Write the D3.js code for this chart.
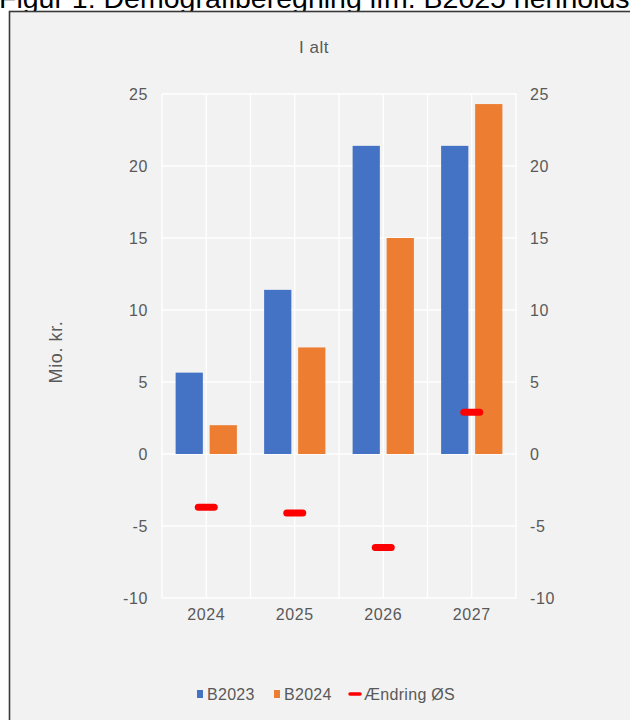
<!DOCTYPE html>
<html>
<head>
<meta charset="utf-8">
<script src="https://cdn.jsdelivr.net/npm/d3@7"></script>
<style>
  html, body { margin: 0; padding: 0; background: #fff; }
  svg { display: block; font-family: "Liberation Sans", Arial, sans-serif; }
  .tick text { fill: #595959; font-size: 16px; letter-spacing: 0.6px; }
</style>
</head>
<body>
<div id="chart"></div>
<script>
(function () {
  // data
  const years = ["2024", "2025", "2026", "2027"];
  const seriesNames = ["B2023", "B2024"];
  const b2023 = [5.65, 11.4, 21.4, 21.4];
  const b2024 = [2.0, 7.4, 15.0, 24.3];
  const aendring = [-3.7, -4.1, -6.5, 2.9];
  const yTicks = [-10, -5, 0, 5, 10, 15, 20, 25];
  const colors = {B2023: "#4472c4", B2024: "#ed7d31", line: "#ff0000"};

  const W = 630, H = 720;
  const plot = {left: 162, right: 516, top: 94, bottom: 598};

  const svg = d3.select("#chart").append("svg")
    .attr("width", W)
    .attr("height", H);

  // figure caption, cut off at the top like the screenshot
  svg.append("text")
    .attr("x", -1)
    .attr("y", 8)
    .attr("font-size", 28.5)
    .attr("fill", "#000")
    .text("Figur 1: Demografiberegning ifm. B2025 henholdsvis B2024");

  // chart area
  svg.append("rect")
    .attr("x", 9.5).attr("y", 11.5)
    .attr("width", W + 20).attr("height", H + 20)
    .attr("fill", "#f2f2f2")
    .attr("stroke", "#3a3a3a")
    .attr("stroke-width", 1.6);

  const x = d3.scaleBand()
    .domain(years)
    .range([plot.left, plot.right]);

  const x1 = d3.scaleBand()
    .domain(seriesNames)
    .range([0, x.bandwidth()])
    .paddingInner(0.2)
    .paddingOuter(0.4);

  const y = d3.scaleLinear()
    .domain([-10, 25])
    .range([plot.bottom, plot.top]);

  // gridlines
  const grid = svg.append("g").attr("stroke", "#fff").attr("stroke-width", 1.3);
  grid.selectAll("line.h")
    .data(yTicks)
    .join("line")
      .attr("class", "h")
      .attr("x1", plot.left).attr("x2", plot.right)
      .attr("y1", (d) => y(d)).attr("y2", (d) => y(d));

  const vLines = [];
  years.forEach((d) => {
    vLines.push(x(d));
    vLines.push(x(d) + x.bandwidth() / 2);
  });
  vLines.push(plot.right);
  grid.selectAll("line.v")
    .data(vLines)
    .join("line")
      .attr("class", "v")
      .attr("x1", (d) => d).attr("x2", (d) => d)
      .attr("y1", plot.top).attr("y2", plot.bottom);

  // bars
  const rows = years.map((yr, i) => ({year: yr, B2023: b2023[i], B2024: b2024[i], diff: aendring[i]}));

  svg.append("g")
    .selectAll("g")
    .data(rows)
    .join("g")
      .attr("transform", (d) => "translate(" + x(d.year) + ",0)")
    .selectAll("rect")
    .data((d) => seriesNames.map((k) => ({key: k, value: d[k]})))
    .join("rect")
      .attr("x", (d) => x1(d.key))
      .attr("width", x1.bandwidth())
      .attr("y", (d) => y(Math.max(0, d.value)))
      .attr("height", (d) => Math.abs(y(d.value) - y(0)))
      .attr("fill", (d) => colors[d.key]);

  // Ændring ØS markers (line series shown as dash markers only)
  svg.append("g")
    .selectAll("line")
    .data(rows)
    .join("line")
      .attr("x1", (d) => x(d.year) + x.bandwidth() / 2 - 8)
      .attr("x2", (d) => x(d.year) + x.bandwidth() / 2 + 8)
      .attr("y1", (d) => y(d.diff))
      .attr("y2", (d) => y(d.diff))
      .attr("stroke", colors.line)
      .attr("stroke-width", 7)
      .attr("stroke-linecap", "round");

  // axes
  const fmt = (d) => String(d);

  const left = svg.append("g")
    .attr("transform", "translate(" + (plot.left - 14) + ",0)")
    .call(d3.axisLeft(y).tickValues(yTicks).tickFormat(fmt).tickSize(0).tickPadding(0));
  left.select(".domain").remove();

  const right = svg.append("g")
    .attr("transform", "translate(" + (plot.right + 14) + ",0)")
    .call(d3.axisRight(y).tickValues(yTicks).tickFormat(fmt).tickSize(0).tickPadding(0));
  right.select(".domain").remove();

  const bottom = svg.append("g")
    .attr("transform", "translate(0," + (plot.bottom + 11) + ")")
    .call(d3.axisBottom(x).tickSize(0).tickPadding(0));
  bottom.select(".domain").remove();

  // titles
  svg.append("text")
    .attr("x", 314).attr("y", 53)
    .attr("text-anchor", "middle")
    .attr("font-size", 17)
    .attr("letter-spacing", 0.5)
    .attr("fill", "#595959")
    .text("I alt");

  svg.append("text")
    .attr("transform", "translate(62,352) rotate(-90)")
    .attr("text-anchor", "middle")
    .attr("font-size", 18)
    .attr("letter-spacing", 0.6)
    .attr("fill", "#595959")
    .text("Mio. kr.");

  // legend
  const legendItems = [
    {label: "B2023", color: colors.B2023, type: "box", x: 197},
    {label: "B2024", color: colors.B2024, type: "box", x: 274},
    {label: "Ændring ØS", color: colors.line, type: "line", x: 349}
  ];
  const legend = svg.append("g").attr("transform", "translate(0,694)");
  const li = legend.selectAll("g")
    .data(legendItems)
    .join("g")
      .attr("transform", (d) => "translate(" + d.x + ",0)");
  li.filter((d) => d.type === "box").append("rect")
    .attr("x", 0).attr("y", -4).attr("width", 6).attr("height", 8)
    .attr("fill", (d) => d.color);
  li.filter((d) => d.type === "line").append("line")
    .attr("x1", 1).attr("x2", 11).attr("y1", 0).attr("y2", 0)
    .attr("stroke", (d) => d.color).attr("stroke-width", 3.5)
    .attr("stroke-linecap", "round");
  li.append("text")
    .attr("x", (d) => d.type === "box" ? 10 : 15)
    .attr("y", 6)
    .attr("font-size", 16)
    .attr("letter-spacing", 0.3)
    .attr("fill", "#595959")
    .text((d) => d.label);
})();
</script>
</body>
</html>
